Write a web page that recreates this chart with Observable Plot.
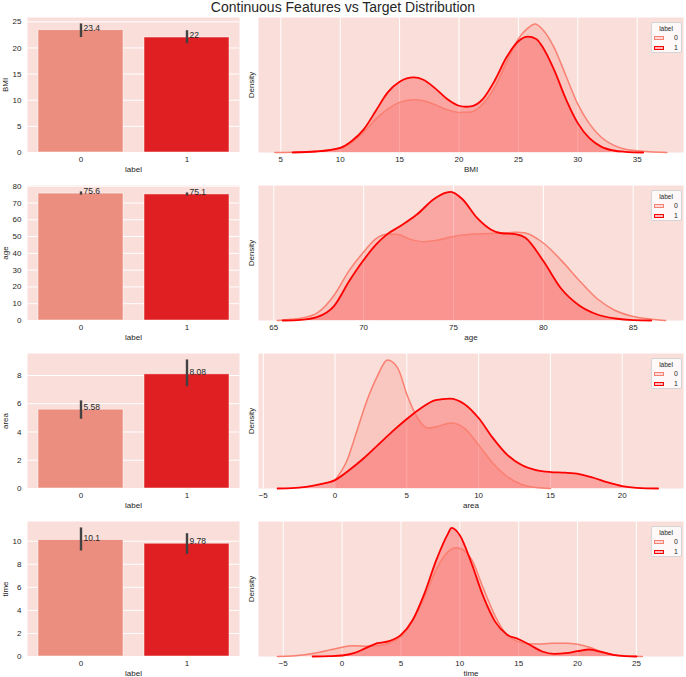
<!DOCTYPE html>
<html>
<head>
<meta charset="utf-8">
<script src="https://cdn.jsdelivr.net/npm/d3@7"></script>
<script src="https://cdn.jsdelivr.net/npm/@observablehq/plot@0.6"></script>
<style>
  body { margin: 0; background: #fff; overflow: hidden; }
  #chart { position: relative; width: 686px; height: 677px; overflow: hidden; font-family: "Liberation Sans", Arial, sans-serif; color: #262626; }
  #title { position: absolute; left: 0; top: -1px; width: 686px; text-align: center; font-size: 14px; line-height: 16px; color: #262626; }
  .legend { position: absolute; width: 31px; height: 31px; box-sizing: border-box; background: rgba(255,255,255,0.8); border: 1px solid rgba(204,204,204,0.8); border-radius: 2px; color: #262626; }
  .legend .lt { position: absolute; left: 0; width: 28px; top: 1.5px; text-align: center; line-height: 8px; font-size: 6.5px; }
  .legend .sw { position: absolute; left: 2px; width: 10px; height: 4px; box-sizing: border-box; }
  .legend .tx { position: absolute; left: 22px; line-height: 8px; font-size: 7px; }
</style>
</head>
<body>
<div id="chart"><div id="title">Continuous Features vs Target Distribution</div></div>
<script>
// ---------- data ----------
const features = ["BMI", "age", "area", "time"];
const labels = ["0", "1"];

// bar chart: means and 95% CI per label
const meanLabel0 = [23.4, 75.6, 5.58, 10.1];
const meanLabel1 = [22.0, 75.1, 8.08, 9.78];
const ciLow0  = [22.0, 74.7, 4.9, 9.15];
const ciHigh0 = [24.6, 76.6, 6.2, 11.15];
const ciLow1  = [20.8, 74.1, 7.2, 8.85];
const ciHigh1 = [23.3, 76.0, 9.1, 10.65];

// tick labels
const barTicksBMI  = [0, 5, 10, 15, 20, 25];
const barTicksAge  = [0, 10, 20, 30, 40, 50, 60, 70, 80];
const barTicksArea = [0, 2, 4, 6, 8];
const barTicksTime = [0, 2, 4, 6, 8, 10];
const kdeTicksBMI  = [5, 10, 15, 20, 25, 30, 35];
const kdeTicksAge  = [65, 70, 75, 80, 85];
const kdeTicksArea = [-5, 0, 5, 10, 15, 20];
const kdeTicksTime = [-5, 0, 5, 10, 15, 20, 25];

// KDE x extents
const kdeDomainBMI  = [3.12, 38.9];
const kdeDomainAge  = [64.15, 87.8];
const kdeDomainArea = [-5.33, 24.27];
const kdeDomainTime = [-7.1, 29.0];

// KDE curves (x, relative density)
const bmiDensity0 = [[4.5,0],[6,1],[8,4],[10,12],[11,30],[12,62],[13,100],[14,130],[15,150],[16.2,158],[17,155],[18,143],[19,128],[20,120],[21,121],[22,145],[23,195],[24,270],[25,340],[26,378],[26.4,385],[27,370],[28,315],[29,230],[30,145],[31,85],[32,45],[33,22],[34,10],[35,5],[36,2],[37.5,0]];
const bmiDensity1 = [[6,0],[8,3],[10,14],[11,35],[12,70],[13,125],[14,180],[15,212],[16.2,225],[17,218],[18,192],[19,160],[20,140],[20.6,137],[21,138],[22,160],[23,215],[24,285],[25,333],[25.8,347],[26.5,340],[27,318],[28,248],[29,160],[30,88],[31,42],[32,17],[33,6],[34,2],[35.5,0]];
const ageDensity0 = [[65.2,0],[66,4],[66.5,7],[67.4,22],[68.35,75],[69.2,150],[70,205],[70.7,245],[71.3,258],[71.85,258],[72.6,243],[73.35,236],[74.1,240],[74.85,250],[75.5,256],[76.6,260],[77.6,261],[78.5,264],[79,262],[80,232],[81,180],[82,120],[83,65],[84,30],[85,12],[86,4],[86.8,0]];
const ageDensity1 = [[65.5,0],[66.5,2],[67.4,10],[68.35,43],[69.2,118],[69.96,178],[70.7,228],[71.3,258],[72.05,283],[72.98,318],[73.9,363],[74.6,383],[74.85,385],[75.5,363],[76.3,308],[77.1,272],[77.6,262],[78.5,258],[79,248],[80,178],[81,95],[82,45],[83,18],[84,6],[85,1],[86,0]];
const areaDensity0 = [[0,25],[0.85,85],[1.55,175],[2.25,265],[2.95,335],[3.65,383],[4.35,360],[5.05,275],[5.75,210],[6.45,180],[7.15,185],[8.07,195],[9,180],[10,130],[11,75],[12,35],[13,12],[14,3],[15,0]];
const areaDensity1 = [[-4,0],[-3,1],[-2,5],[-1,13],[0,25],[1,55],[2,90],[3,130],[4,170],[5,207],[6,240],[7,263],[8,268],[9,252],[10,210],[11,150],[12,100],[13,70],[14,55],[15,49],[16,47],[17,43],[18,32],[19,18],[20,7],[21,2],[22.5,0]];
const timeDensity0 = [[-5.5,0],[-4,2],[-3,6],[-2,12],[-1,20],[0,28],[1,32],[2,31],[3,32],[4,40],[5,60],[6,108],[7,178],[8,262],[9,315],[9.7,327],[10.5,315],[11,292],[12,205],[13,122],[14,65],[15,44],[16,38],[17,38],[18,40],[19,40],[20,37],[21,28],[22,15],[23,6],[24,2],[25.5,0]];
const timeDensity1 = [[-2.5,0],[-1,1],[0,3],[1,10],[2,25],[3,40],[4,46],[5,65],[6,110],[7,190],[8,290],[9,370],[9.3,387],[10,365],[11,280],[12,180],[13,105],[14,66],[15,52],[16,34],[17,15],[18,8],[19,10],[20,16],[21,21],[22,14],[23,5],[24,1],[25,0]];

// ---------- build ----------
const barTicks = [barTicksBMI, barTicksAge, barTicksArea, barTicksTime];
const kdeTicks = [kdeTicksBMI, kdeTicksAge, kdeTicksArea, kdeTicksTime];
const kdeDomains = [kdeDomainBMI, kdeDomainAge, kdeDomainArea, kdeDomainTime];
const kde0 = [bmiDensity0, ageDensity0, areaDensity0, timeDensity0];
const kde1 = [bmiDensity1, ageDensity1, areaDensity1, timeDensity1];

const FONT = '"Liberation Sans", Arial, sans-serif';
const INK = "#262626";
const BG = "#F9DEDA";
const BAR_COLORS = ["#EB8E7F", "#E01F22"];
const KDE_COLORS = ["#FA8072", "#FF0000"];
const rowTops = [17, 185, 353, 521];
const AX_H = 135;
const fmt = d3.format(".3~g");

const chart = document.getElementById("chart");

function place(el, left, top) {
  el.style.position = "absolute";
  el.style.left = left + "px";
  el.style.top = top + "px";
  chart.appendChild(el);
}

features.forEach((feat, i) => {
  const T = rowTops[i];
  const bars = [
    {label: "0", mean: meanLabel0[i], lo: ciLow0[i], hi: ciHigh0[i]},
    {label: "1", mean: meanLabel1[i], lo: ciLow1[i], hi: ciHigh1[i]}
  ];
  const yMax = Math.max(ciHigh0[i], ciHigh1[i]) * 1.05;

  const barPlot = Plot.plot({
    width: 245, height: AX_H + 30,
    marginTop: 5, marginBottom: 25, marginLeft: 27, marginRight: 6,
    style: {fontFamily: FONT, fontSize: "8px", color: INK, background: "transparent", overflow: "visible"},
    x: {type: "band", domain: labels, paddingInner: 0.2, paddingOuter: 0.1},
    y: {domain: [0, yMax]},
    color: {domain: labels, range: BAR_COLORS},
    marks: [
      Plot.frame({fill: BG, stroke: "none"}),
      Plot.gridY({ticks: barTicks[i], stroke: "white", strokeOpacity: 1, strokeWidth: 1}),
      Plot.barY(bars, {x: "label", y: "mean", fill: "label", stroke: "white", strokeOpacity: 0.6, strokeWidth: 0.8}),
      Plot.ruleX(bars, {x: "label", y1: "lo", y2: "hi", stroke: "#424242", strokeWidth: 2.4}),
      Plot.text(bars, {x: "label", y: "mean", text: d => fmt(d.mean), textAnchor: "start", lineAnchor: "bottom", dx: 2.5, dy: 0.5, fill: INK, fontSize: 8.5}),
      Plot.axisY({ticks: barTicks[i], tickSize: 0, tickPadding: 6, label: null, fill: INK}),
      Plot.axisX({tickSize: 0, tickPadding: 4, label: null, fill: INK}),
      Plot.text([feat], {frameAnchor: "left", dx: -22, rotate: -90, lineAnchor: "middle", textAnchor: "middle", fill: INK, fontSize: 8}),
      Plot.text(["label"], {frameAnchor: "bottom", dy: 17, lineAnchor: "middle", fill: INK, fontSize: 8})
    ]
  });
  place(barPlot, 0, T - 5);

  const kdeMax = Math.max(d3.max(kde0[i], d => d[1]), d3.max(kde1[i], d => d[1])) * 1.05;
  const kdePlot = Plot.plot({
    width: 446, height: AX_H + 30,
    marginTop: 5, marginBottom: 25, marginLeft: 18, marginRight: 3,
    style: {fontFamily: FONT, fontSize: "8px", color: INK, background: "transparent", overflow: "visible"},
    x: {domain: kdeDomains[i]},
    y: {domain: [0, kdeMax], axis: null},
    marks: [
      Plot.frame({fill: BG, stroke: "none"}),
      Plot.gridX({ticks: kdeTicks[i], stroke: "white", strokeOpacity: 1, strokeWidth: 1}),
      Plot.areaY(kde0[i], {x: d => d[0], y: d => d[1], fill: KDE_COLORS[0], fillOpacity: 0.25, curve: "monotone-x"}),
      Plot.areaY(kde1[i], {x: d => d[0], y: d => d[1], fill: KDE_COLORS[1], fillOpacity: 0.25, curve: "monotone-x"}),
      Plot.line(kde0[i], {x: d => d[0], y: d => d[1], stroke: KDE_COLORS[0], strokeWidth: 1.5, curve: "monotone-x"}),
      Plot.line(kde1[i], {x: d => d[0], y: d => d[1], stroke: KDE_COLORS[1], strokeWidth: 1.8, curve: "monotone-x"}),
      Plot.axisX({ticks: kdeTicks[i], tickSize: 0, tickPadding: 4, label: null, fill: INK}),
      Plot.text(["Density"], {frameAnchor: "left", dx: -7, rotate: -90, lineAnchor: "middle", textAnchor: "middle", fill: INK, fontSize: 8}),
      Plot.text([feat], {frameAnchor: "bottom", dy: 17, lineAnchor: "middle", fill: INK, fontSize: 8})
    ]
  });
  place(kdePlot, 240, T - 5);

  // legend
  const lg = document.createElement("div");
  lg.className = "legend";
  lg.innerHTML =
    `<div class="lt">label</div>` +
    `<div class="sw" style="top:13px;background:rgba(250,128,114,0.25);border:1px solid ${KDE_COLORS[0]}"></div>` +
    `<div class="tx" style="top:11px">${labels[0]}</div>` +
    `<div class="sw" style="top:22.5px;height:4.5px;background:rgba(255,0,0,0.25);border:1.4px solid ${KDE_COLORS[1]}"></div>` +
    `<div class="tx" style="top:20.5px">${labels[1]}</div>`;
  place(lg, 651, T + 5);
});
</script>
</body>
</html>
